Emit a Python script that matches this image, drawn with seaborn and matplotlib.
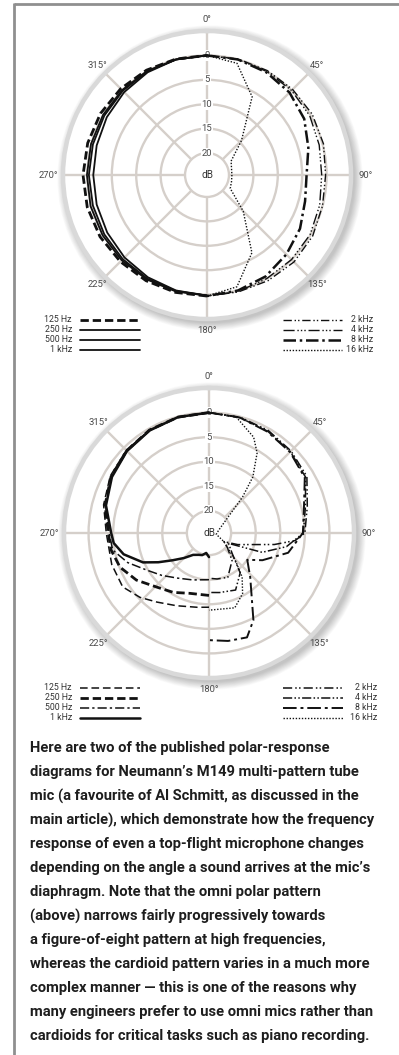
import numpy as np
import matplotlib
matplotlib.use("Agg")
import matplotlib.pyplot as plt
import seaborn as sns
from matplotlib.lines import Line2D
from matplotlib.patches import Circle

# ------------------------------------------------------------------ data
# Angles in degrees (0 = on-axis, clockwise). Values are dB relative to on-axis.
LEFT_ANGLES = [180, 195, 210, 225, 240, 255, 270, 285, 300, 315, 330, 345, 360]
RIGHT_ANGLES = [0, 15, 30, 45, 60, 75, 90, 105, 120, 135, 150, 165, 180]

LOW_FREQS = ["125 Hz", "250 Hz", "500 Hz", "1 kHz"]
HIGH_FREQS = ["2 kHz", "4 kHz", "8 kHz", "16 kHz"]

# --- upper diagram (omni pattern)
OMNI_125 = [0.3, 0.4, 0.5, 0.6, 0.8, 0.9, 0.9, 0.8, 0.7, 0.5, 0.3, 0.1, 0.0]
OMNI_250 = [0.2, 0.2, 0.2, 0.2, 0.2, 0.2, 0.1, 0.1, 0.1, 0.1, 0.1, 0.0, 0.0]
OMNI_500 = [0.2, 0.1, 0.0, -0.1, -0.2, -0.3, -0.3, -0.3, -0.2, -0.1, 0.0, 0.0, 0.0]
OMNI_1K = [0.2, 0.0, -0.3, -0.6, -0.9, -1.1, -1.2, -1.1, -0.8, -0.5, -0.2, 0.0, 0.0]
OMNI_2K = [0.0, 0.1, 0.2, 0.3, 0.4, 0.2, -0.2, 0.0, 0.5, 0.7, 0.5, 0.3, 0.3]
OMNI_4K = [0.0, 0.0, 0.0, 0.0, -0.2, -0.7, -1.0, -0.6, -0.1, 0.0, 0.0, 0.2, 0.3]
OMNI_8K = [0.0, 0.0, -0.2, -0.6, -1.5, -3.0, -4.1, -3.7, -2.5, -1.5, -0.5, 0.0, 0.3]
OMNI_16K = [0.0, -0.8, -6.0, -14.5, -18.8, -19.3, -19.4, -19.3, -19.0, -14.0, -6.1, -0.8, 0.3]

# --- lower diagram (cardioid pattern)
CARD_125_ANG = [180, 189, 204, 217, 227, 238, 252, 270, 285, 300, 315, 330, 345, 360]
CARD_125 = [-9.4, -9.2, -8.3, -6.9, -5.3, -3.8, -3.7, -3.6, -2.3, -1.3, -0.7, -0.3, -0.1, 0.0]
CARD_250_ANG = [180, 198, 211, 224, 237, 249, 260, 270, 285, 300, 315, 330, 345, 360]
CARD_250 = [-11.8, -11.6, -10.4, -9.2, -6.9, -5.1, -4.3, -4.0, -2.6, -1.5, -0.8, -0.3, -0.1, 0.0]
CARD_500_ANG = [180, 199, 215, 228, 239, 250, 260, 270, 285, 300, 315, 330, 345, 360]
CARD_500 = [-15.0, -14.4, -13.3, -11.6, -9.8, -6.9, -4.6, -4.2, -2.7, -1.6, -0.9, -0.4, -0.1, 0.0]
CARD_1K_ANG = [180, 188, 197, 205, 216, 225, 233, 240, 246, 256, 264, 270, 285, 300, 315, 330, 345, 360]
CARD_1K = [-19.6, -20.4, -19.8, -19.6, -19.0, -17.3, -15.3, -12.6, -9.8, -6.6, -5.0, -4.6, -2.8, -1.7,
           -0.9, -0.4, -0.1, 0.0]

CARD_2K_ANG = [0, 15, 30, 45, 60, 75, 90, 95, 100, 112, 120, 128, 140, 157, 170, 180]
CARD_2K = [0.0, -0.1, -0.4, -0.9, -1.5, -3.8, -5.0, -6.9, -11.0, -18.2, -21.0, -19.8, -17.2, -14.7, -15.0, -15.3]
CARD_4K_ANG = [0, 15, 30, 45, 60, 75, 90, 100, 110, 118, 131, 142, 155, 170, 180]
CARD_4K = [0.0, -0.2, -0.6, -1.1, -1.8, -4.2, -5.3, -8.5, -13.0, -20.0, -18.3, -14.2, -11.7, -12.2, -12.4]
CARD_8K_ANG = [0, 15, 30, 45, 60, 75, 90, 104, 117, 125, 137, 153, 160, 170, 180]
CARD_8K = [0.0, -0.2, -0.7, -1.2, -2.0, -4.5, -5.4, -7.9, -12.3, -15.0, -12.2, -4.6, -1.9, -2.2, -2.7]
CARD_16K_ANG = [0, 13, 25, 31, 38, 43, 50, 75, 100, 120, 136, 143, 151, 161, 180]
CARD_16K = [0.0, -0.2, -3.0, -5.5, -10.0, -14.5, -19.4, -22.5, -23.0, -21.0, -16.8, -13.3, -10.4, -8.4, -8.8]

RING_VALUES = [-20, -15, -10, -5, 0]
RING_LABELS = ["20", "15", "10", "5", "0"]
SPOKE_ANGLES = [0, 45, 90, 135, 180, 225, 270, 315]

CAPTION = [
    "Here are two of the published polar-response",
    "diagrams for Neumann\u2019s M149 multi-pattern tube",
    "mic (a favourite of Al Schmitt, as discussed in the",
    "main article), which demonstrate how the frequency",
    "response of even a top-flight microphone changes",
    "depending on the angle a sound arrives at the mic\u2019s",
    "diaphragm. Note that the omni polar pattern",
    "(above) narrows fairly progressively towards",
    "a figure-of-eight pattern at high frequencies,",
    "whereas the cardioid pattern varies in a much more",
    "complex manner \u2014 this is one of the reasons why",
    "many engineers prefer to use omni mics rather than",
    "cardioids for critical tasks such as piano recording.",
]

# ------------------------------------------------------------------ styles
W, H, DPI = 399, 1055, 100
R_MIN, R_MAX = -24.5, 5.0
GRID = "#d5cfca"
INK = "#111111"
LABEL = "#4a4a4a"

TOP_STYLES = {
    "125 Hz": dict(lw=2.0, ls=(0, (3, 1.4))),
    "250 Hz": dict(lw=1.3, ls="-"),
    "500 Hz": dict(lw=1.3, ls="-"),
    "1 kHz": dict(lw=1.3, ls="-"),
    "2 kHz": dict(lw=1.0, ls=(0, (6, 2, 1, 1.5, 1, 2))),
    "4 kHz": dict(lw=1.0, ls=(0, (8, 2, 1, 1.5, 1, 1.5, 1, 2))),
    "8 kHz": dict(lw=1.8, ls=(0, (5, 1.5, 1, 1.5))),
    "16 kHz": dict(lw=1.0, ls=(0, (1, 1.2))),
}
BOT_STYLES = {
    "125 Hz": dict(lw=1.1, ls=(0, (5, 2.5))),
    "250 Hz": dict(lw=2.0, ls=(0, (3, 1.4))),
    "500 Hz": dict(lw=1.1, ls=(0, (6, 2, 1.5, 2))),
    "1 kHz": dict(lw=1.8, ls="-"),
    "2 kHz": dict(lw=1.1, ls=(0, (6, 2, 1, 1.5, 1, 2))),
    "4 kHz": dict(lw=1.1, ls=(0, (6, 1.5, 1, 1.5, 1, 1.5))),
    "8 kHz": dict(lw=1.4, ls=(0, (7, 2, 1.5, 2))),
    "16 kHz": dict(lw=1.0, ls=(0, (1, 1.2))),
}

sns.set_theme(style="white")
plt.rcParams["font.family"] = ["Roboto", "DejaVu Sans"]

fig = plt.figure(figsize=(W / DPI, H / DPI), dpi=DPI)
fig.patch.set_facecolor("white")


def px_to_in(x, y):
    return x / DPI, (H - y) / DPI


def make_polar(cx, cy, rad):
    # soft drop shadow round the outer ring
    for i in range(12):
        c = Circle(px_to_in(cx + 3, cy + 3), (rad + 1 + i * 0.7) / DPI,
                   transform=fig.dpi_scale_trans, facecolor="black",
                   edgecolor="none", alpha=0.018, zorder=-5)
        fig.patches.append(c)
    ax = fig.add_axes([(cx - rad) / W, 1 - (cy + rad) / H, 2 * rad / W, 2 * rad / H],
                      projection="polar", zorder=1)
    ax.set_theta_zero_location("N")
    ax.set_theta_direction(-1)
    ax.set_ylim(R_MIN, R_MAX)
    ax.set_facecolor("white")
    ax.set_xticks([])
    ax.set_yticks(RING_VALUES)
    ax.set_yticklabels([])
    ax.yaxis.grid(True, color=GRID, lw=1.7)
    ax.xaxis.grid(False)
    ax.set_axisbelow(True)
    ax.spines["polar"].set_color("#d9d9d9")
    ax.spines["polar"].set_linewidth(3.2)
    ax.vlines(np.deg2rad(SPOKE_ANGLES), RING_VALUES[0], R_MAX, color=GRID, lw=1.7, zorder=0.5)
    for v, t in zip(RING_VALUES, RING_LABELS):
        ax.text(0, v, t, ha="center", va="center", fontsize=6.8, color=LABEL, zorder=0.8,
                bbox=dict(boxstyle="square,pad=0.1", fc="white", ec="none"))
    ax.text(0, R_MIN, "dB", ha="center", va="center", fontsize=7.2, color="#333333", zorder=0.8)
    for a in SPOKE_ANGLES:
        rr = 8.0 if a in (90, 270) else 7.3
        ax.text(np.deg2rad(a), rr, f"{a}\u00b0", ha="center", va="center", fontsize=6.8,
                color=LABEL, clip_on=False)
    return ax


def draw_curve(ax, ang, vals, style):
    sns.lineplot(x=np.deg2rad(ang), y=vals, ax=ax, sort=False, estimator=None,
                 color=INK, linewidth=style["lw"], linestyle=style["ls"], zorder=3)


def legend_block(rows_y, labels, styles, x_text, x0, x1):
    for y, lab in zip(rows_y, labels):
        st = styles[lab]
        fig.add_artist(Line2D([x0 / W, x1 / W], [1 - y / H, 1 - y / H],
                              transform=fig.transFigure, color=INK,
                              lw=st["lw"], ls=st["ls"]))
        fig.text(x_text / W, 1 - y / H, lab, ha="right", va="center",
                 fontsize=6.3, color="#333333")


# ---------------- upper diagram
ax1 = make_polar(207, 175, 144)
for vals, lab in zip([OMNI_125, OMNI_250, OMNI_500, OMNI_1K], LOW_FREQS):
    draw_curve(ax1, LEFT_ANGLES, vals, TOP_STYLES[lab])
for vals, lab in zip([OMNI_2K, OMNI_4K, OMNI_8K, OMNI_16K], HIGH_FREQS):
    draw_curve(ax1, RIGHT_ANGLES, vals, TOP_STYLES[lab])
ax1.set_xlabel("")
ax1.set_ylabel("")

legend_block([320, 330, 340, 350], LOW_FREQS, TOP_STYLES, 72, 80, 140)
legend_block([320, 330, 340, 350], HIGH_FREQS, TOP_STYLES, 373, 283, 342)

# ---------------- lower diagram
ax2 = make_polar(209, 533, 145)
for ang, vals, lab in zip([CARD_125_ANG, CARD_250_ANG, CARD_500_ANG, CARD_1K_ANG],
                          [CARD_125, CARD_250, CARD_500, CARD_1K], LOW_FREQS):
    draw_curve(ax2, ang, vals, BOT_STYLES[lab])
for ang, vals, lab in zip([CARD_2K_ANG, CARD_4K_ANG, CARD_8K_ANG, CARD_16K_ANG],
                          [CARD_2K, CARD_4K, CARD_8K, CARD_16K], HIGH_FREQS):
    draw_curve(ax2, ang, vals, BOT_STYLES[lab])
ax2.set_xlabel("")
ax2.set_ylabel("")

legend_block([688, 698, 708, 718], LOW_FREQS, BOT_STYLES, 72, 80, 140)
legend_block([688, 698, 708, 718], HIGH_FREQS, BOT_STYLES, 377, 283, 343)

# ---------------- caption
for i, line in enumerate(CAPTION):
    fig.text(30 / W, 1 - (748 + i * 24.03) / H, line, ha="left", va="center",
             fontsize=10.6, fontweight="semibold", color="#1e1e1e")

# ---------------- frame
fig.add_artist(Line2D([14 / W, 1.0], [1 - 4 / H, 1 - 4 / H], transform=fig.transFigure,
                      color="#8f8f8f", lw=2.0, solid_capstyle="butt"))
fig.add_artist(Line2D([14 / W, 14 / W], [1 - 3 / H, 0.0], transform=fig.transFigure,
                      color="#8f8f8f", lw=2.0, solid_capstyle="butt"))

fig.savefig("out.png", dpi=DPI, facecolor="white")
